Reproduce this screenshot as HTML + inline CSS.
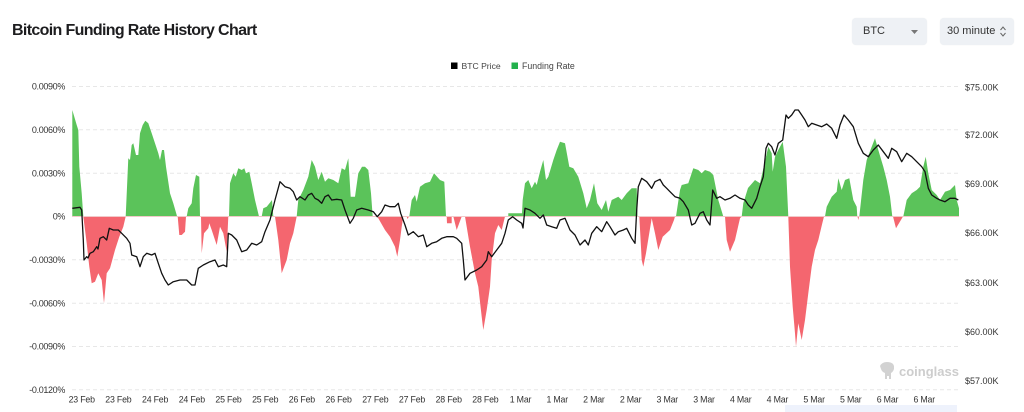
<!DOCTYPE html>
<html>
<head>
<meta charset="utf-8">
<style>
  html,body{margin:0;padding:0;background:#fff;}
  body{width:1024px;height:412px;position:relative;overflow:hidden;font-family:"Liberation Sans",sans-serif;}
  .title{position:absolute;left:12px;top:22px;font-size:16px;font-weight:bold;color:#1d1d1f;letter-spacing:-0.65px;white-space:nowrap;}
  .dd{position:absolute;top:18px;height:27px;background:#eef1f5;border-radius:4px;box-shadow:0 0 1px rgba(0,0,0,0.08);font-size:11px;color:#333;}
  .dd span{position:absolute;top:7px;white-space:nowrap;}
</style>
</head>
<body>
<div class="title">Bitcoin Funding Rate History Chart</div>

<div class="dd" style="left:852px;width:75px;">
  <span style="left:11px;">BTC</span>
  <svg style="position:absolute;left:59px;top:12px" width="7" height="4"><polygon points="0,0 7,0 3.5,4" fill="#777"/></svg>
</div>
<div class="dd" style="left:940px;width:74px;">
  <span style="left:7px;">30 minute</span>
  <svg style="position:absolute;left:60px;top:8px" width="6" height="11"><polyline points="0.5,4 3,1 5.5,4" fill="none" stroke="#666" stroke-width="1"/><polyline points="0.5,7 3,10 5.5,7" fill="none" stroke="#666" stroke-width="1"/></svg>
</div>

<svg width="1024" height="412" style="position:absolute;left:0;top:0" xmlns="http://www.w3.org/2000/svg">
  <!-- legend -->
  <rect x="451" y="62.5" width="6.5" height="6.5" fill="#000"/>
  <text x="461.5" y="69" font-family="Liberation Sans, sans-serif" font-size="8.6" fill="#444">BTC Price</text>
  <rect x="511.5" y="62.5" width="6.5" height="6.5" fill="#22b14c"/>
  <text x="522" y="69" font-family="Liberation Sans, sans-serif" font-size="8.8" fill="#444">Funding Rate</text>

  <!-- gridlines -->
  <g stroke="#e7e7e7" stroke-width="1" stroke-dasharray="4,3">
    <line x1="72" y1="86.5" x2="959" y2="86.5"/>
    <line x1="72" y1="129.8" x2="959" y2="129.8"/>
    <line x1="72" y1="173.2" x2="959" y2="173.2"/>
    <line x1="72" y1="259.8" x2="959" y2="259.8"/>
    <line x1="72" y1="303.2" x2="959" y2="303.2"/>
    <line x1="72" y1="346.5" x2="959" y2="346.5"/>
    <line x1="72" y1="389.8" x2="959" y2="389.8"/>
  </g>

  <!-- left axis labels -->
  <g font-family="Liberation Sans, sans-serif" font-size="9" fill="#333" text-anchor="end" letter-spacing="-0.35">
    <text x="65" y="89.5">0.0090%</text>
    <text x="65" y="133">0.0060%</text>
    <text x="65" y="176.3">0.0030%</text>
    <text x="65" y="219.7">0%</text>
    <text x="65" y="263">-0.0030%</text>
    <text x="65" y="306.3">-0.0060%</text>
    <text x="65" y="349.7">-0.0090%</text>
    <text x="65" y="393">-0.0120%</text>
  </g>

  <!-- right axis labels -->
  <g font-family="Liberation Sans, sans-serif" font-size="9" fill="#333">
    <text x="965" y="90.5">$75.00K</text>
    <text x="965" y="138.2">$72.00K</text>
    <text x="965" y="187.2">$69.00K</text>
    <text x="965" y="235.9">$66.00K</text>
    <text x="965" y="285.9">$63.00K</text>
    <text x="965" y="334.9">$60.00K</text>
    <text x="965" y="384.2">$57.00K</text>
  </g>

  <!-- x labels -->
  <g font-family="Liberation Sans, sans-serif" font-size="8.8" fill="#333" text-anchor="middle" letter-spacing="-0.2">
    <text x="81.7" y="402.5">23 Feb</text>
    <text x="118.4" y="402.5">23 Feb</text>
    <text x="155.1" y="402.5">24 Feb</text>
    <text x="191.8" y="402.5">24 Feb</text>
    <text x="228.5" y="402.5">25 Feb</text>
    <text x="265.2" y="402.5">25 Feb</text>
    <text x="301.9" y="402.5">26 Feb</text>
    <text x="338.6" y="402.5">26 Feb</text>
    <text x="375.3" y="402.5">27 Feb</text>
    <text x="412" y="402.5">27 Feb</text>
    <text x="448.7" y="402.5">28 Feb</text>
    <text x="485.4" y="402.5">28 Feb</text>
    <text x="520.5" y="402.5">1 Mar</text>
    <text x="557.2" y="402.5">1 Mar</text>
    <text x="593.9" y="402.5">2 Mar</text>
    <text x="630.6" y="402.5">2 Mar</text>
    <text x="667.3" y="402.5">3 Mar</text>
    <text x="704" y="402.5">3 Mar</text>
    <text x="740.7" y="402.5">4 Mar</text>
    <text x="777.4" y="402.5">4 Mar</text>
    <text x="814.1" y="402.5">5 Mar</text>
    <text x="850.8" y="402.5">5 Mar</text>
    <text x="887.5" y="402.5">6 Mar</text>
    <text x="924.2" y="402.5">6 Mar</text>
  </g>

  <!-- bottom slider hint -->
  <rect x="785" y="405" width="172" height="7" fill="#eef2fc"/>

  <!-- watermark -->
  <g fill="#d2d2d2">
    <path d="M880,366 q2,-4 7,-4 q6,0 7,4 l0,3 q-1,3 -3,4 l0,6 l-2,0 l0,-3 l-2,0 l0,3 l-2,0 l0,-6 q-3,-1 -4,-4 z"/>
    <text x="899" y="376" font-family="Liberation Sans, sans-serif" font-size="13" font-weight="bold" fill="#cdcdcd">coinglass</text>
  </g>

  <!-- green areas -->
  <g fill="#5bc35a">
    <polygon points="72.3,216.5 72.3,110 76.7,125 78.3,130 79.3,166.7 81.7,193.3 83.3,216.5"/>
    <polygon points="125.7,216.5 128.3,158.3 130,160 131.7,145 133.3,143.3 136,155 138.3,155 140,133.3 142.7,125 145.3,120.7 148.3,123.3 151.7,133.3 155,143.3 158.3,153.3 160,160 162,150 164,150 166,166.7 170,193.3 173.3,203.3 176.7,215 177,216.5"/>
    <polygon points="186.7,216.5 188.3,208.3 191.7,203.3 193.3,188.3 196,175 199.3,176.7 200,216.5"/>
    <polygon points="229,216.5 230,183.3 233.3,173.3 235.7,176.7 238.3,168.3 241.7,170 244.3,168.3 246,173.3 249.3,171.7 251.7,183.3 255,200 259,216.5"/>
    <polygon points="261.7,216.5 263.3,208.3 266.7,206.7 270.7,201.7 272,200 273.3,216.5"/>
    <polygon points="296.7,216.5 298.3,200 303.3,190 308.3,176.7 311.7,160 315,166.7 318.3,180 321.7,171.7 325,181.7 328.3,178.3 333.3,180 338.3,183.3 341.7,168.3 345,170 348.3,158.3 350.7,196.7 355,196.7 358.3,173.3 362,166.7 365,166.7 368.3,170 371,193.3 372.7,216.5"/>
    <polygon points="409.3,216.5 411.7,200 415,195 416.7,201.7 420,186.7 425,183.3 430,181.7 434,173.3 440,180 444.3,181.7 446,216.5"/>
    <polygon points="508.3,216.5 508.3,213.3 522,213.3 522.7,200 525,183.3 528.3,180 531.7,188.3 535,181.7 536.7,185 540,171.7 543.3,160 546,180 548.3,176.7 553.3,160 556.7,150 560,141.7 565,143.3 569.3,166.7 573.3,168.3 578.3,176.7 583.3,193.3 586.7,208.3 590,200 594,183.3 597.3,203.3 601.7,210 606,200 608.3,211.7 611.7,200 618.3,196.7 621.7,200 626.7,193.3 631.7,188.3 636.7,188.3 637.5,216.5"/>
    <polygon points="676,216.5 680,190 681.7,185 688.3,183.3 693.3,168.3 698.3,170 701.7,173.3 705,170 710,171.7 713.3,175 718.3,200 723.3,216.5"/>
    <polygon points="741.7,216.5 743.3,203.3 748,188 755,180 760,183.3 766,156.7 768.3,146.7 771.7,153.3 772.7,171.7 775,156.7 778.3,150 782.7,141.7 786,166.7 788.3,216.5"/>
    <polygon points="825,216.5 826.7,206.7 831.7,196.7 836.7,191.7 838.3,178.3 841.7,190 845,180 849.3,178.3 853.3,200 856.7,206.7 857.3,216.5"/>
    <polygon points="859.3,216.5 863.3,180 866.7,160 871.7,146.7 875,138.3 878.3,150 883.3,166.7 886.7,180 890,196.7 892.3,216.5"/>
    <polygon points="903.3,216.5 906.7,200 911.7,193.3 916.7,190 920,186.7 923.3,166.7 925.7,156.7 928.3,173.3 931.7,190 936.7,195 940,200 945,191.7 950,190 955,185 956.7,200 959,208.3 959,216.5"/>
  </g>

  <!-- red areas -->
  <g fill="#f4666f">
    <polygon points="83.3,216.5 86.7,243.3 89.3,266.7 91.7,283.3 95,281.7 98.3,273.3 101.7,280 104,303.3 106.7,273.3 110,268.3 115,250 119.3,236.7 123.3,226.7 125.7,216.5"/>
    <polygon points="177.7,216.5 179.3,235 181.7,235 185,231.7 186,216.5"/>
    <polygon points="201,216.5 201.7,253.3 204,233.3 208.3,228.3 209.3,223.3 211.7,230 215,240 216.7,245 220,226.7 223.3,233.3 226.7,251.7 228.3,216.5"/>
    <polygon points="275,216.5 278.3,240 281.7,273.3 286.7,260 290,243.3 293.3,233.3 296.7,216.5"/>
    <polygon points="377.3,216.5 379.3,220 385,230 390,236.7 395,246.7 397.3,256.7 400,240 401.7,226.7 403.3,216.5"/>
    <polygon points="406.7,216.5 407.5,219 409,216.5"/>
    <polygon points="446.7,216.5 447,223.3 451.7,223.3 451.7,216.5"/>
    <polygon points="453.3,216.5 456.7,230 461.7,216.5"/>
    <polygon points="465,216.5 470,246.7 475,273.3 478.3,286.7 481.7,316.7 483.3,330 486.7,310 490,286.7 491.7,260 495,233.3 498.3,225 501.7,230 505,216.5"/>
    <polygon points="639.3,216.5 641.7,260 643.3,266.7 646,253.3 651.7,218.3 655,233.3 658.3,250 662.7,236.7 670,230 674,220 675,216.5"/>
    <polygon points="725,216.5 726.7,240 730,251.7 735,240 740,218.3 741.7,216.5"/>
    <polygon points="788.3,216.5 790,266.7 792.7,306.7 795,333.3 796,346.7 798.3,323.3 801.7,340 805,320 808.3,293.3 811.7,266.7 815,250 818.3,240 822.3,223.3 824,216.5"/>
    <polygon points="857.5,216.5 858.3,220 859,216.5"/>
    <polygon points="893,216.5 896,228.3 903,216.5"/>
  </g>

  <!-- zero line -->
  <line x1="72" y1="216.5" x2="959" y2="216.5" stroke="#f2c9c9" stroke-width="1"/>

  <!-- price line -->
  <polyline fill="none" stroke="#111" stroke-width="1.3" stroke-linejoin="round" points="72.3,208.3 80,207.3 81.7,210 83.3,240 84,260 86.7,256.7 88,258 90,253.3 93.3,251.7 96.7,246.7 98,249 100,238.3 103.3,236.7 106.7,240 109.3,228.3 113.3,230 118.3,230 121.7,233.3 126.7,238.3 130,243.3 131.7,255 136.7,256.7 140,266.7 143.3,256.7 146.7,253.3 151.7,255 155,253.3 158.3,263.3 161.7,273.3 165,280 168.3,285 173.3,281.7 180,280 186.7,280 191.7,285 195,285 198.3,268.3 203.3,265 210,261.7 215,260 218.3,266.7 223.3,265 226.7,266.7 228.3,233.3 231.7,235 236.7,240 241.7,251.7 246.7,250 251.7,243.3 256.7,245 261.7,241.7 265,231.7 270,220 275,200 280,181.7 285,186.7 290,188.3 293.3,191.7 296.7,200 300,196.7 305,200 308.3,195 311.7,193.3 315,198.3 318.3,200 321.7,203.3 325,196.7 328.3,195 331.7,200 336.7,199.3 341.7,200 345,210 350,223.3 353.3,218.3 356.7,210 361.7,208.3 368.3,210 373.3,211.7 377.3,216.7 381.7,211.7 385,205 390,206.7 395,206.7 398.3,203.3 400.7,213.3 405,225 408.3,235 413.3,231.7 418.3,236.7 423.3,235 426.7,246.7 431.7,243.3 436.7,241.7 441.7,238.3 446.7,236.7 453.3,236.7 456.7,238.3 461.7,243.3 463.3,260 465,280 470,273.3 476.7,270 481.7,266.7 486.7,260 488.3,251.7 491.7,256.7 496.7,250 501.7,243.3 505,233.3 508.3,220 512.7,216.7 516.7,220 521.7,223.3 523,228 525,208.3 530,210 535,213.3 540,218.3 543.3,215 546.7,225 551.7,226.7 556.7,228.3 560,220 565,218.3 570,230 575,235 580,245 585,240 588.3,245 591.7,233.3 596.7,226.7 601.7,231.7 606.7,221.7 610,226.7 615,235 618.3,231.7 623.3,230 626.7,228.3 631.7,238.3 635,243.3 636.7,210 638.3,186.7 641.7,178.3 646.7,181.7 651.7,188.3 655,181.7 660,179.3 663.3,185 666.7,188.3 670,191.7 675,196.7 680,198.3 683.3,201.7 688.3,210 691.7,225 695,223.3 700,213.3 703.3,211.7 706.7,220 710,225 712.7,190 716.7,198.3 720,196.7 725,200 730,198.3 735,195 740,198.3 745,200 748.3,205 751.7,208.3 756.7,198.3 760,186.7 763.3,176.7 766,148.3 768.3,143.3 771.7,146.7 775,155 778.3,143.3 782.7,140 786,115 788.3,118.3 791.7,115 795,110 798.3,110 801.7,115 805,120 808.3,126.7 811.7,123.3 816.7,125 821.7,126.7 826.7,124 831.7,128.3 836.7,138.3 840,125 844,115 848.3,120 853.3,126.7 858.3,143.3 863.3,153.3 868.3,156.7 873.3,150 878.3,145 883.3,151.7 888.3,158.3 891.7,148.3 896.7,151.7 901.7,161.7 906.7,153.3 911.7,156.7 916.7,161.7 921.7,166.7 925,171.7 928.3,188.3 931.7,195 936.7,198.3 940,200 945,201.7 950,198.3 955,198.3 958.3,200"/>
</svg>
</body>
</html>
